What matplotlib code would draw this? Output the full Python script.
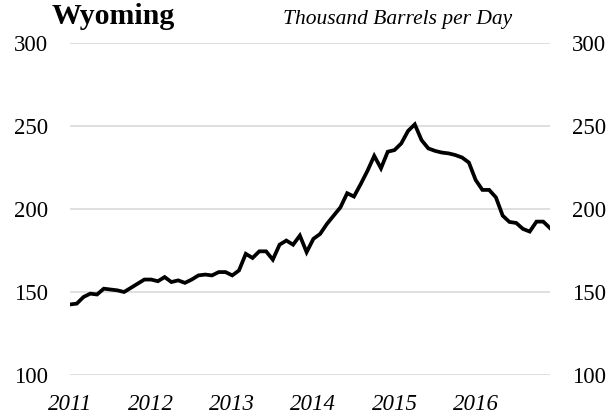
import matplotlib
matplotlib.use("Agg")
import matplotlib.pyplot as plt

plt.rcParams['font.family'] = ['Liberation Serif', 'DejaVu Serif']

# monthly crude oil production, Jan 2011 - Dec 2016
production = [142.5, 143, 147, 149, 148.5, 152, 151.5, 151, 150, 152.5, 155, 157.5,
              157.5, 156.5, 159, 156, 157, 155.5, 157.5, 160, 160.5, 160, 162, 162,
              160, 163, 173, 170.5, 174.5, 174.5, 169.5, 178.5, 181, 178.5, 184, 174,
              182, 185, 191, 196, 201, 209.5, 207.5, 215, 223, 232, 224.5, 234.5,
              235.5, 239.5, 247, 251, 241.5, 236.5, 235, 234, 233.5, 232.5, 231, 228,
              217.5, 211.5, 211.5, 207, 196, 192.2, 191.6, 188, 186.4, 192.4, 192.4, 188.5]
years = ['2011', '2012', '2013', '2014', '2015', '2016']

fig = plt.figure(figsize=(6.12, 4.2), dpi=100)
ax = fig.add_axes([70 / 612, 1 - 375 / 420, 480 / 612, 332 / 420])

x = list(range(len(production)))
ax.plot(x, production, color='black', linewidth=2.7, solid_joinstyle='miter', zorder=3)

ax.set_xlim(0, len(production) - 1)
ax.set_ylim(100, 300)
ax.set_yticks([100, 150, 200, 250, 300])
ax.grid(axis='y', color='#d9d9d9', linewidth=1.2)
ax.set_axisbelow(True)
for s in ax.spines.values():
    s.set_visible(False)

ax.set_xticks([i * 12 for i in range(len(years))])
ax.set_xticklabels(years, fontstyle='italic', fontsize=16.5)
ax.tick_params(axis='x', length=0, pad=14)
ax.tick_params(axis='y', length=0, labelsize=16.5, pad=16, labelright=True)

fig.text(52 / 612, 1 - 24 / 420, 'Wyoming', fontsize=21.5, fontweight='bold',
         ha='left', va='baseline')
fig.text(512 / 612, 1 - 24 / 420, 'Thousand Barrels per Day', fontsize=15.5,
         fontstyle='italic', ha='right', va='baseline')

fig.savefig('out.png', dpi=100)
